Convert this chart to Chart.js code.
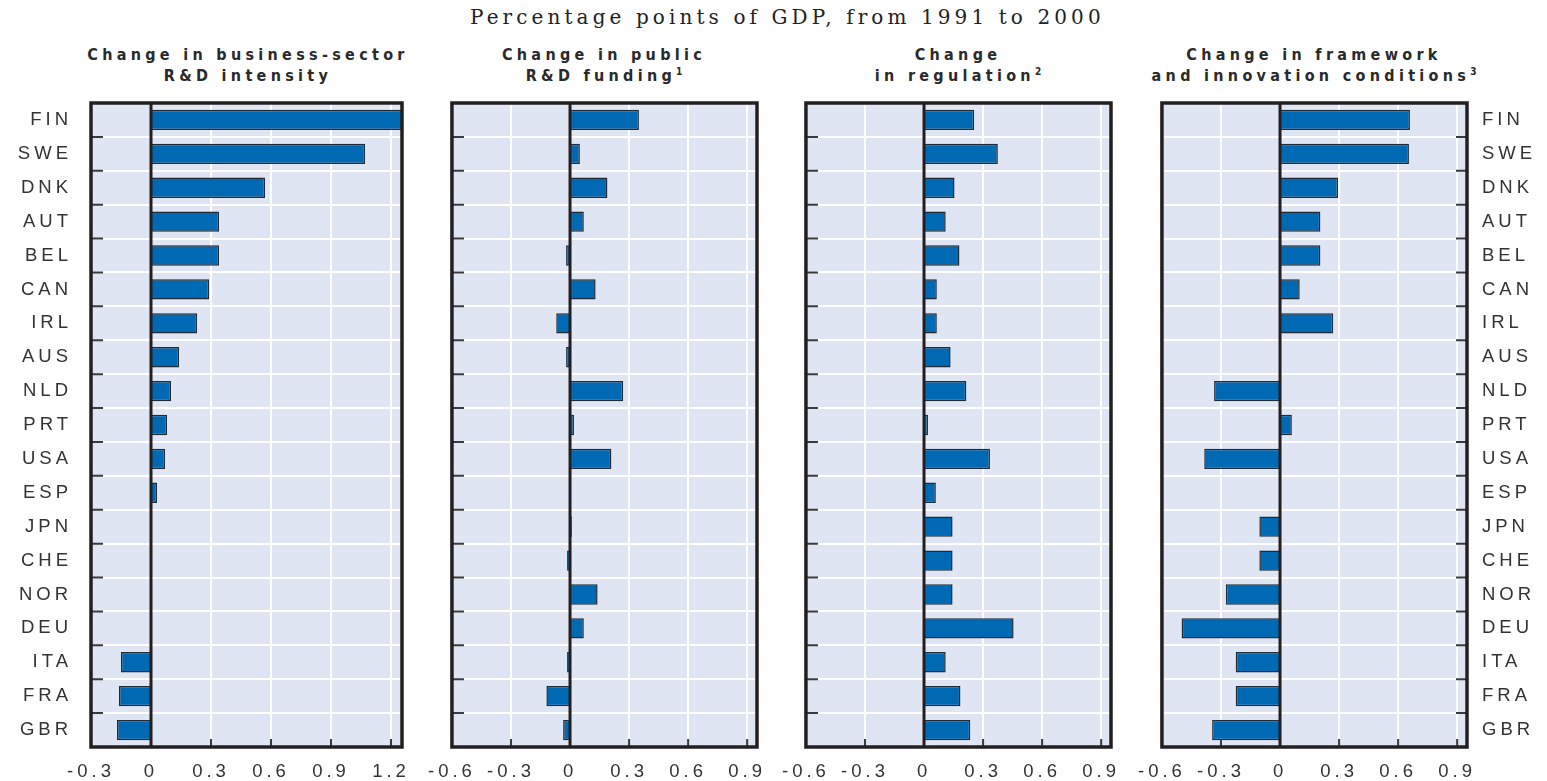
<!DOCTYPE html>
<html>
<head>
<meta charset="utf-8">
<script src="https://cdn.jsdelivr.net/npm/chart.js@4.4.1/dist/chart.umd.min.js"></script>
<style>
  body { margin: 0; background: #fff; width: 1547px; height: 781px; overflow: hidden; position: relative; }
  .subtitle { position: absolute; left: 470px; top: 5px; white-space: nowrap; font: 20px "DejaVu Serif", serif; letter-spacing: 4.1px; color: #222; }
  .ptitle { position: absolute; top: 44px; width: 440px; text-align: center; font: bold 16px "Liberation Sans Narrow", "DejaVu Sans Condensed", sans-serif; line-height: 21px; letter-spacing: 4.3px; color: #2a2a2a; }
  .ptitle sup { font-size: 10px; line-height: 0; letter-spacing: 0; }
  .panel { position: absolute; top: 95px; height: 686px; }
</style>
</head>
<body>
<div class="subtitle">Percentage points of GDP, from 1991 to 2000</div>
<div class="ptitle" style="left:28px">Change in business-sector<br>R&amp;D intensity</div>
<div class="ptitle" style="left:384px">Change in public<br>R&amp;D funding<sup>1</sup></div>
<div class="ptitle" style="left:738px">Change<br>in regulation<sup>2</sup></div>
<div class="ptitle" style="left:1094px">Change in framework<br>and innovation conditions<sup>3</sup></div>

<div class="panel" style="left:0px;width:420px"><canvas id="c1"></canvas></div>
<div class="panel" style="left:422px;width:353px"><canvas id="c2"></canvas></div>
<div class="panel" style="left:776px;width:353px"><canvas id="c3"></canvas></div>
<div class="panel" style="left:1132px;width:415px"><canvas id="c4"></canvas></div>

<script>
const countries = ['FIN', 'SWE', 'DNK', 'AUT', 'BEL', 'CAN', 'IRL', 'AUS', 'NLD', 'PRT',
  'USA', 'ESP', 'JPN', 'CHE', 'NOR', 'DEU', 'ITA', 'FRA', 'GBR'];

const businessRD = [1.26, 1.07, 0.57, 0.34, 0.34, 0.29, 0.23, 0.14, 0.10, 0.08,
  0.07, 0.03, null, null, null, null, -0.15, -0.16, -0.17];
const publicRD = [0.35, 0.05, 0.19, 0.07, -0.02, 0.13, -0.07, -0.02, 0.27, 0.02,
  0.21, null, 0.01, -0.015, 0.14, 0.07, -0.015, -0.12, -0.035];
const regulation = [0.255, 0.375, 0.155, 0.11, 0.18, 0.065, 0.065, 0.135, 0.215, 0.02,
  0.335, 0.06, 0.145, 0.145, 0.145, 0.455, 0.11, 0.185, 0.235];
const framework = [0.66, 0.655, 0.295, 0.205, 0.205, 0.10, 0.27, null, -0.335, 0.06,
  -0.385, null, -0.105, -0.105, -0.275, -0.50, -0.225, -0.225, -0.345];

const xTickStep = 0.3;
const rangeBusiness = [-0.3, 1.255];
const rangeOther = [-0.6, 0.95];

const plotBg = '#DFE5F3';
const barBlue = '#0069B4';
const ink = '#231F20';
const labelFont = { family: 'Liberation Sans', size: 18.5 };

// background, inward tick marks, zero line and heavy frame
const panelFrame = {
  id: 'panelFrame',
  beforeDraw(chart) {
    const { ctx, chartArea: a } = chart;
    ctx.letterSpacing = '4px';
    ctx.save();
    ctx.fillStyle = plotBg;
    ctx.fillRect(a.left, a.top, a.width, a.height);
    ctx.restore();
  },
  afterDatasetsDraw(chart, args, opts) {
    const { ctx, chartArea: a, scales: { x, y } } = chart;
    ctx.save();
    ctx.strokeStyle = '#3a3a3a';
    ctx.lineWidth = 2;
    ctx.beginPath();
    x.ticks.forEach(t => {
      const px = x.getPixelForValue(t.value);
      if (t.value === 0 || px <= a.left + 2) return;
      ctx.moveTo(px, a.bottom);
      ctx.lineTo(px, a.bottom - 8);
    });
    for (let i = 0; i < countries.length - 1; i++) {
      const py = (y.getPixelForValue(i) + y.getPixelForValue(i + 1)) / 2;
      if (opts.side === 'right') {
        ctx.moveTo(a.right, py);
        ctx.lineTo(a.right - 11, py);
      } else {
        ctx.moveTo(a.left, py);
        ctx.lineTo(a.left + 12, py);
      }
    }
    ctx.stroke();

    const x0 = x.getPixelForValue(0);
    ctx.strokeStyle = ink;
    ctx.lineWidth = 3;
    ctx.beginPath();
    ctx.moveTo(x0, a.top);
    ctx.lineTo(x0, a.bottom);
    ctx.stroke();

    ctx.lineWidth = 3.5;
    ctx.strokeRect(a.left, a.top, a.width, a.height);
    ctx.restore();
  }
};

function fmt(v) {
  if (Math.abs(v) < 1e-9) return '0';
  return String(Math.round(v * 10) / 10);
}

function makePanel(id, values, range, p) {
  return new Chart(document.getElementById(id), {
    type: 'bar',
    data: {
      labels: countries,
      datasets: [{
        data: values,
        backgroundColor: barBlue,
        borderColor: '#1F2A36',
        borderWidth: 1.5,
        barPercentage: 0.6,
        categoryPercentage: 1
      }]
    },
    options: {
      indexAxis: 'y',
      responsive: true,
      maintainAspectRatio: false,
      animation: false,
      layout: { padding: p.padding },
      plugins: {
        legend: { display: false },
        tooltip: { enabled: false },
        panelFrame: { side: p.side }
      },
      scales: {
        x: {
          min: range[0],
          max: range[1],
          grid: { color: '#fff', lineWidth: 2, drawTicks: false },
          border: { display: false },
          ticks: {
            stepSize: xTickStep,
            includeBounds: false,
            padding: 14,
            color: '#333',
            font: labelFont,
            maxRotation: 0,
            autoSkip: false,
            callback: v => fmt(v)
          },
          afterFit: s => { s.height = 34; }
        },
        y: {
          position: p.position,
          grid: { color: '#fff', lineWidth: 2, drawTicks: false },
          border: { display: false },
          ticks: {
            display: p.labels,
            padding: p.tickPad,
            color: '#333',
            font: labelFont,
            autoSkip: false
          },
          afterFit: s => {
            s.width = p.width;
            s.paddingTop = 0;
            s.paddingBottom = 0;
          }
        }
      }
    },
    plugins: [panelFrame]
  });
}

makePanel('c1', businessRD, rangeBusiness,
  { side: 'left', position: 'left', labels: true, tickPad: 19, width: 91, padding: { top: 8, right: 18 } });
makePanel('c2', publicRD, rangeOther,
  { side: 'left', position: 'left', labels: false, tickPad: 0, width: 0, padding: { top: 8, left: 25, right: 18 } });
makePanel('c3', regulation, rangeOther,
  { side: 'left', position: 'left', labels: false, tickPad: 0, width: 0, padding: { top: 8, left: 25, right: 18 } });
makePanel('c4', framework, rangeOther,
  { side: 'right', position: 'right', labels: true, tickPad: 15, width: 80, padding: { top: 8, left: 25 } });
</script>
</body>
</html>
